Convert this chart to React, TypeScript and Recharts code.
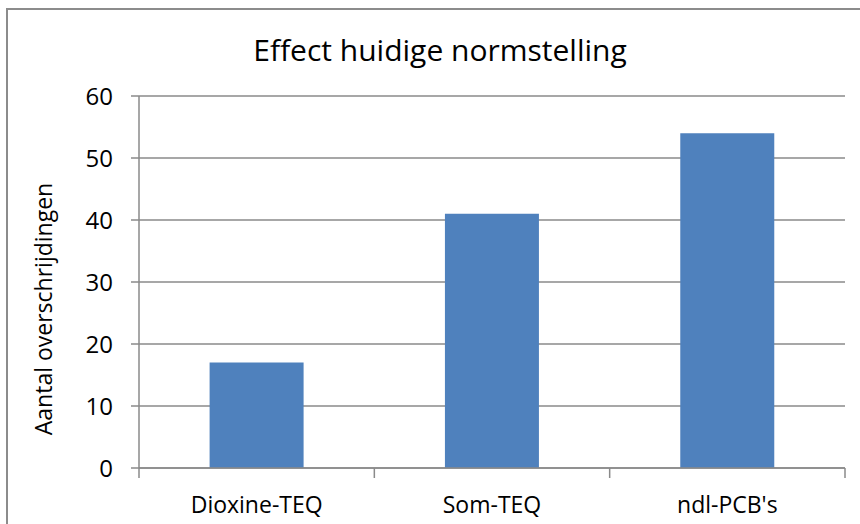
import React from 'react';
import { BarChart, Bar, XAxis, YAxis, CartesianGrid } from 'recharts';

const categories = ['Dioxine-TEQ', 'Som-TEQ', "ndl-PCB's"];
const overschrijdingen = [17, 41, 54];
const yTicks = [0, 10, 20, 30, 40, 50, 60];

const data = categories.map((name, i) => ({ name, value: overschrijdingen[i] }));

const FONT = '"Open Sans", sans-serif';
const GRID = '#8a8a8a';

const CategoryTick = (props: any) => {
  const { x, y, payload, index } = props;
  const half = payload && payload.offset ? payload.offset : 0;
  return (
    <g>
      {index === 0 && <line x1={x - half} y1={y} x2={x - half} y2={y + 10} stroke={GRID} strokeWidth={1.5} />}
      <line x1={x + half} y1={y} x2={x + half} y2={y + 10} stroke={GRID} strokeWidth={1.5} />
      <text x={x} y={y + 45} textAnchor="middle" fill="#000" fontSize={23} fontFamily={FONT}>
        {payload.value}
      </text>
    </g>
  );
};

export default function App() {
  return (
    <div style={{ position: 'absolute', left: 0, top: 0, width: 860, height: 524, background: '#fff', overflow: 'hidden' }}>
      <div
        style={{
          position: 'absolute',
          left: 6,
          top: 8,
          width: 900,
          height: 600,
          border: '2px solid #8c8c8c',
          boxSizing: 'border-box',
        }}
      />
      <div
        style={{
          position: 'absolute',
          left: 0,
          width: 880,
          top: 30,
          textAlign: 'center',
          fontFamily: FONT,
          fontSize: 30,
          color: '#000',
          lineHeight: '40px',
        }}
      >
        Effect huidige normstelling
      </div>
      <div style={{ position: 'absolute', left: 0, top: 0 }}>
        <BarChart
          width={860}
          height={524}
          data={data}
          margin={{ top: 96, right: 15, bottom: 26, left: 20 }}
          barCategoryGap="30%"
        >
          <CartesianGrid vertical={false} stroke={GRID} strokeWidth={1.5} />
          <XAxis
            dataKey="name"
            axisLine={{ stroke: GRID, strokeWidth: 1.5 }}
            tickLine={false}
            tickSize={0}
            tickMargin={0}
            height={30}
            interval={0}
            tick={<CategoryTick />}
          />
          <YAxis
            domain={[0, 60]}
            ticks={yTicks}
            width={119}
            axisLine={{ stroke: GRID, strokeWidth: 1.5 }}
            tickLine={{ stroke: GRID, strokeWidth: 1.5 }}
            tickSize={8}
            tickMargin={18}
            tick={{ fill: '#000', fontSize: 24, fontFamily: FONT }}
            label={() => (
              <text
                x={43}
                y={309}
                transform="rotate(-90 43 309)"
                textAnchor="middle"
                dominantBaseline="central"
                fill="#000"
                fontSize={23}
                fontFamily={FONT}
              >
                Aantal overschrijdingen
              </text>
            )}
          />
          <Bar dataKey="value" fill="#4F81BD" isAnimationActive={false} />
        </BarChart>
      </div>
    </div>
  );
}
